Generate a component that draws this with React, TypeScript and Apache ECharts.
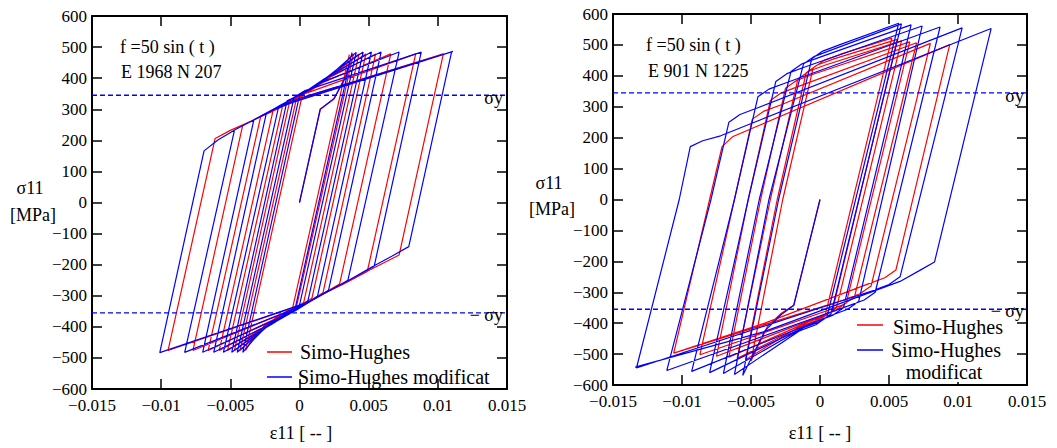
import React, { useEffect, useRef } from "react";
import * as echarts from "echarts";

// ---------- axis ranges / labels ----------
const X_MIN = -0.015;
const X_MAX = 0.015;
const X_STEP = 0.005;
const Y_MIN = -600;
const Y_MAX = 600;
const Y_STEP = 100;
const sigmaYLevels = [345, -355];
const seriesNames = ["Simo-Hughes", "Simo-Hughes modificat"];
const leftNotes = ["f =50 sin ( t )", "E 1968 N 207"];
const rightNotes = ["f =50 sin ( t )", "E 901 N 1225"];
const yTitle = ["σ11", "[MPa]"];
const xTitle = "ε11 [ -- ]";

// ---------- left plot (E 1968 N 207): strain, stress [MPa] ----------
const leftSimoHughes = [
  [0, 0], [0.0015, 300], [0.0025, 333], [0.0032, 395], [0.0036, 476],
  [-0.0005, -340], [-0.0014, -362], [-0.0025, -395], [-0.0034, -438], [-0.0039, -476],
  [0.0002, 345], [0.001, 366], [0.0021, 398], [0.003, 435], [0.0039, 478],
  [-0.0002, -332], [-0.0011, -355], [-0.0021, -383], [-0.0032, -425], [-0.0043, -476],
  [-0.0002, 338], [0.0007, 360], [0.0017, 388], [0.0028, 425], [0.0043, 478],
  [0.0003, -322], [-0.0006, -345], [-0.0016, -370], [-0.0028, -408], [-0.0047, -476],
  [-0.0007, 328], [0.0002, 348], [0.0012, 374], [0.0024, 410], [0.0048, 478],
  [0.0009, -308], [0.0, -332], [-0.001, -358], [-0.0022, -392], [-0.0052, -476],
  [-0.0012, 315], [-0.0003, 336], [0.0008, 364], [0.002, 398], [0.0055, 478],
  [0.0017, -290], [0.0006, -322], [-0.0004, -346], [-0.0016, -378], [-0.0058, -476],
  [-0.0019, 298], [-0.0007, 326], [0.0004, 352], [0.0017, 386], [0.0066, 478],
  [0.0029, -262], [0.0016, -296], [0.0005, -324], [-0.0006, -350], [-0.0066, -476],
  [-0.0028, 278], [-0.0016, 303], [-0.0006, 326], [0.0005, 352], [0.0084, 478],
  [0.0049, -222], [0.0032, -262], [0.0018, -292], [0.0002, -332], [-0.0077, -476],
  [-0.0041, 250], [-0.003, 272], [-0.0016, 303], [0.0001, 336], [0.0104, 478],
  [0.0072, -169], [0.006, -196], [0.0045, -230], [0.003, -265], [0.0018, -292], [0.0006, -322], [-0.0095, -476],
  [-0.0061, 206], [-0.005, 232], [-0.0036, 260], [-0.002, 292], [-0.0006, 322], [0.0104, 478],
];

const leftSimoHughesMod = [
  [0, 0], [0.0015, 300], [0.0025, 335], [0.0033, 400], [0.0038, 482],
  [-0.0003, -338], [-0.0012, -362], [-0.0023, -395], [-0.0033, -440], [-0.0041, -482],
  [0.0, 344], [0.0009, 366], [0.002, 400], [0.003, 440], [0.0041, 483],
  [0.0, -330], [-0.0009, -354], [-0.0019, -382], [-0.003, -425], [-0.0045, -482],
  [-0.0004, 337], [0.0005, 358], [0.0015, 386], [0.0027, 428], [0.0046, 484],
  [0.0006, -318], [-0.0003, -342], [-0.0013, -368], [-0.0025, -405], [-0.0049, -482],
  [-0.0009, 327], [0.0, 346], [0.001, 372], [0.0022, 410], [0.0052, 484],
  [0.0013, -302], [0.0003, -330], [-0.0008, -358], [-0.002, -392], [-0.0055, -482],
  [-0.0015, 310], [-0.0005, 334], [0.0006, 362], [0.0018, 398], [0.0059, 484],
  [0.0021, -282], [0.0008, -318], [-0.0002, -345], [-0.0015, -378], [-0.0062, -482],
  [-0.0024, 287], [-0.0008, 327], [0.0002, 352], [0.0015, 385], [0.0072, 484],
  [0.0035, -250], [0.002, -288], [0.0008, -318], [-0.0003, -348], [-0.007, -482],
  [-0.0033, 266], [-0.0018, 302], [-0.0008, 327], [0.0004, 360], [0.0088, 484],
  [0.0054, -205], [0.0035, -252], [0.002, -288], [0.0003, -330], [-0.0083, -482],
  [-0.0047, 233], [-0.0031, 270], [-0.0018, 302], [0.0, 335], [0.011, 485],
  [0.0079, -142], [0.0067, -172], [0.0051, -211], [0.0035, -252], [0.002, -288], [0.0008, -318], [-0.0101, -483],
  [-0.0069, 166], [-0.0059, 201], [-0.0045, 238], [-0.0031, 270], [-0.0018, 300], [-0.0005, 322], [0.0111, 486],
];

// ---------- right plot (E 901 N 1225) ----------
const rightSimoHughes = [
  [0, 0], [-0.0019, -342], [-0.0028, -368], [-0.0038, -410], [-0.005, -522],
  [-0.0027, 0], [-0.0005, 425], [0.0003, 450], [0.0015, 470], [0.0052, 522],
  [0.0004, -370], [-0.0004, -395], [-0.0016, -415], [-0.0054, -518],
  [-0.0031, 0], [-0.001, 410], [-0.0002, 435], [0.001, 455], [0.0056, 518],
  [0.0009, -360], [0.0001, -385], [-0.0011, -405], [-0.006, -514],
  [-0.0036, 0], [-0.0016, 390], [-0.0008, 415], [0.0004, 435], [0.0059, 513],
  [0.0012, -350], [0.0004, -375], [-0.0008, -395], [-0.0066, -510],
  [-0.0043, 0], [-0.0025, 360], [-0.0017, 385], [-0.0005, 405], [0.0065, 510],
  [0.0019, -335], [0.0011, -360], [-0.0001, -380], [-0.0075, -507],
  [-0.0052, 0], [-0.0036, 320], [-0.0028, 345], [-0.0016, 365], [0.007, 507],
  [0.0025, -315], [0.0017, -340], [0.0005, -360], [-0.0087, -502],
  [-0.0062, 0], [-0.0049, 260], [-0.0041, 285], [-0.0029, 305], [0.008, 505],
  [0.0037, -280], [0.0029, -305], [0.0017, -325], [-0.0106, -497],
  [-0.008, 0], [-0.0071, 171], [-0.0063, 204], [-0.0046, 236], [0.0094, 501],
  [0.0055, -228], [0.0047, -253], [0.0035, -273], [-0.004, -400], [-0.0106, -497],
];

const rightSimoHughesMod = [
  [0, 0], [-0.0019, -342], [-0.0028, -372], [-0.004, -425], [-0.0056, -569],
  [-0.003, 0], [-0.0006, 455], [0.0002, 480], [0.0014, 500], [0.0057, 570],
  [0.0005, -380], [-0.0003, -405], [-0.0015, -425], [-0.0062, -566],
  [-0.0037, 0], [-0.0012, 438], [-0.0004, 463], [0.0008, 483], [0.0059, 568],
  [0.0008, -370], [0.0, -395], [-0.0012, -415], [-0.007, -563],
  [-0.0044, 0], [-0.0021, 414], [-0.0013, 439], [-0.0001, 459], [0.0066, 565],
  [0.0017, -350], [0.0009, -375], [-0.0003, -395], [-0.008, -560],
  [-0.0052, 0], [-0.0032, 382], [-0.0024, 407], [-0.0012, 427], [0.0074, 561],
  [0.0028, -330], [0.002, -355], [0.0008, -375], [-0.0093, -556],
  [-0.0062, 0], [-0.0045, 332], [-0.0037, 357], [-0.0025, 377], [0.0087, 558],
  [0.004, -300], [0.0032, -325], [0.002, -345], [-0.0111, -553],
  [-0.0079, 0], [-0.0066, 250], [-0.0058, 275], [-0.0046, 295], [0.0103, 555],
  [0.0058, -250], [0.005, -275], [0.0038, -295], [-0.0133, -545],
  [-0.0102, 0], [-0.0094, 171], [-0.0085, 190], [-0.0072, 206], [-0.0043, 258], [0.0124, 553],
  [0.0083, -202], [0.0072, -230], [0.0058, -265], [-0.0041, -428], [-0.0134, -542],
];

// ---------- styling ----------
const FONT = "'Liberation Serif', 'DejaVu Serif', serif";
const RED = "#ff0000";
const BLUE = "#0000ff";
const INK = "#000000";

function fmtX(v: number): string {
  const r = Math.round(v * 10000) / 10000;
  if (r === 0) return "0";
  return String(r).replace("-", "\u2212");
}
function fmtY(v: number): string {
  return String(Math.round(v)).replace("-", "\u2212");
}

function mkX(g: number, pos: "bottom" | "top") {
  return {
    type: "value",
    gridIndex: g,
    position: pos,
    min: X_MIN,
    max: X_MAX,
    interval: X_STEP,
    axisLine: { show: true, onZero: false, lineStyle: { color: INK, width: 2 } },
    axisTick: { show: true, inside: true, length: 10, lineStyle: { color: INK, width: 1.5 } },
    axisLabel: {
      show: pos === "bottom",
      margin: 8,
      color: INK,
      fontFamily: FONT,
      fontSize: 17,
      formatter: fmtX,
      showMinLabel: true,
      showMaxLabel: true,
    },
    splitLine: { show: false },
  };
}
function mkY(g: number, pos: "left" | "right") {
  return {
    type: "value",
    gridIndex: g,
    position: pos,
    min: Y_MIN,
    max: Y_MAX,
    interval: Y_STEP,
    axisLine: { show: true, onZero: false, lineStyle: { color: INK, width: 2 } },
    axisTick: { show: true, inside: true, length: 10, lineStyle: { color: INK, width: 1.5 } },
    axisLabel: {
      show: pos === "left",
      margin: 5,
      color: INK,
      fontFamily: FONT,
      fontSize: 17,
      formatter: fmtY,
      showMinLabel: true,
      showMaxLabel: true,
    },
    splitLine: { show: false },
  };
}

function loopSeries(name: string, data: number[][], ax: number, color: string, z: number) {
  return {
    type: "line",
    name,
    data,
    xAxisIndex: ax,
    yAxisIndex: ax,
    showSymbol: false,
    symbol: "none",
    silent: true,
    z,
    lineStyle: { color, width: 1.2 },
    itemStyle: { color },
  };
}
function sigmaSeries(level: number, ax: number) {
  return {
    type: "line",
    data: [
      [X_MIN, level],
      [X_MAX, level],
    ],
    xAxisIndex: ax,
    yAxisIndex: ax,
    showSymbol: false,
    symbol: "none",
    silent: true,
    z: 3,
    lineStyle: { color: BLUE, width: 1.3, type: [5, 3] },
  };
}

function txt(text: string, x: number, y: number, size: number, align = "left", bg?: string) {
  return {
    type: "text",
    x,
    y,
    z: 10,
    style: {
      text,
      fill: INK,
      fontFamily: FONT,
      fontSize: size,
      align,
      verticalAlign: "middle",
      backgroundColor: bg,
      padding: bg ? [0, 2] : 0,
    },
  };
}
function seg(x1: number, x2: number, y: number, color: string) {
  return {
    type: "line",
    z: 10,
    shape: { x1, y1: y, x2, y2: y },
    style: { stroke: color, lineWidth: 1.5 },
  };
}

const option = {
  animation: false,
  backgroundColor: "#ffffff",
  textStyle: { fontFamily: FONT },
  grid: [
    { left: 92, top: 16, width: 415, height: 373 },
    { left: 613, top: 14, width: 414, height: 371 },
  ],
  xAxis: [mkX(0, "bottom"), mkX(0, "top"), mkX(1, "bottom"), mkX(1, "top")],
  yAxis: [mkY(0, "left"), mkY(0, "right"), mkY(1, "left"), mkY(1, "right")],
  series: [
    loopSeries(seriesNames[0], leftSimoHughes, 0, RED, 2),
    loopSeries(seriesNames[1], leftSimoHughesMod, 0, BLUE, 2),
    loopSeries(seriesNames[0], rightSimoHughes, 2, RED, 2),
    loopSeries(seriesNames[1], rightSimoHughesMod, 2, BLUE, 2),
    sigmaSeries(sigmaYLevels[0], 0),
    sigmaSeries(sigmaYLevels[1], 0),
    sigmaSeries(sigmaYLevels[0], 2),
    sigmaSeries(sigmaYLevels[1], 2),
  ],
  graphic: [
    // left plot
    txt(leftNotes[0], 120, 47, 18),
    txt(leftNotes[1], 121, 72, 18),
    txt(yTitle[0], 30, 188, 18, "center"),
    txt(yTitle[1], 33, 215, 18, "center"),
    txt(xTitle, 301, 433, 18, "center"),
    txt("σy", 503, 98, 18, "right"),
    txt("\u2212 σy", 503, 315, 18, "right"),
    seg(267, 292, 352, RED),
    txt(seriesNames[0], 300, 352, 20),
    seg(267, 292, 377, BLUE),
    txt(seriesNames[1], 298, 377, 20),
    // right plot
    txt(rightNotes[0], 646, 45, 18),
    txt(rightNotes[1], 648, 71, 18),
    txt(yTitle[0], 549, 183, 18, "center"),
    txt(yTitle[1], 552, 209, 18, "center"),
    txt(xTitle, 820, 433, 18, "center"),
    txt("σy", 1024, 96, 18, "right"),
    txt("\u2212 σy", 1024, 311, 18, "right"),
    seg(857, 883, 325, RED),
    txt(seriesNames[0], 891, 327, 20, "left", "#ffffff"),
    seg(857, 883, 350, BLUE),
    txt("Simo-Hughes", 889, 350, 20, "left", "#ffffff"),
    txt("modificat", 944, 372, 20, "center", "#ffffff"),
  ],
};

export default function App() {
  const ref = useRef<HTMLDivElement>(null);
  useEffect(() => {
    if (!ref.current) return;
    const chart = echarts.init(ref.current, undefined, { renderer: "svg" });
    chart.setOption(option as any);
    return () => chart.dispose();
  }, []);
  return (
    <div
      ref={ref}
      style={{ position: "absolute", left: 0, top: 0, width: 1057, height: 448, background: "#fff" }}
    />
  );
}
